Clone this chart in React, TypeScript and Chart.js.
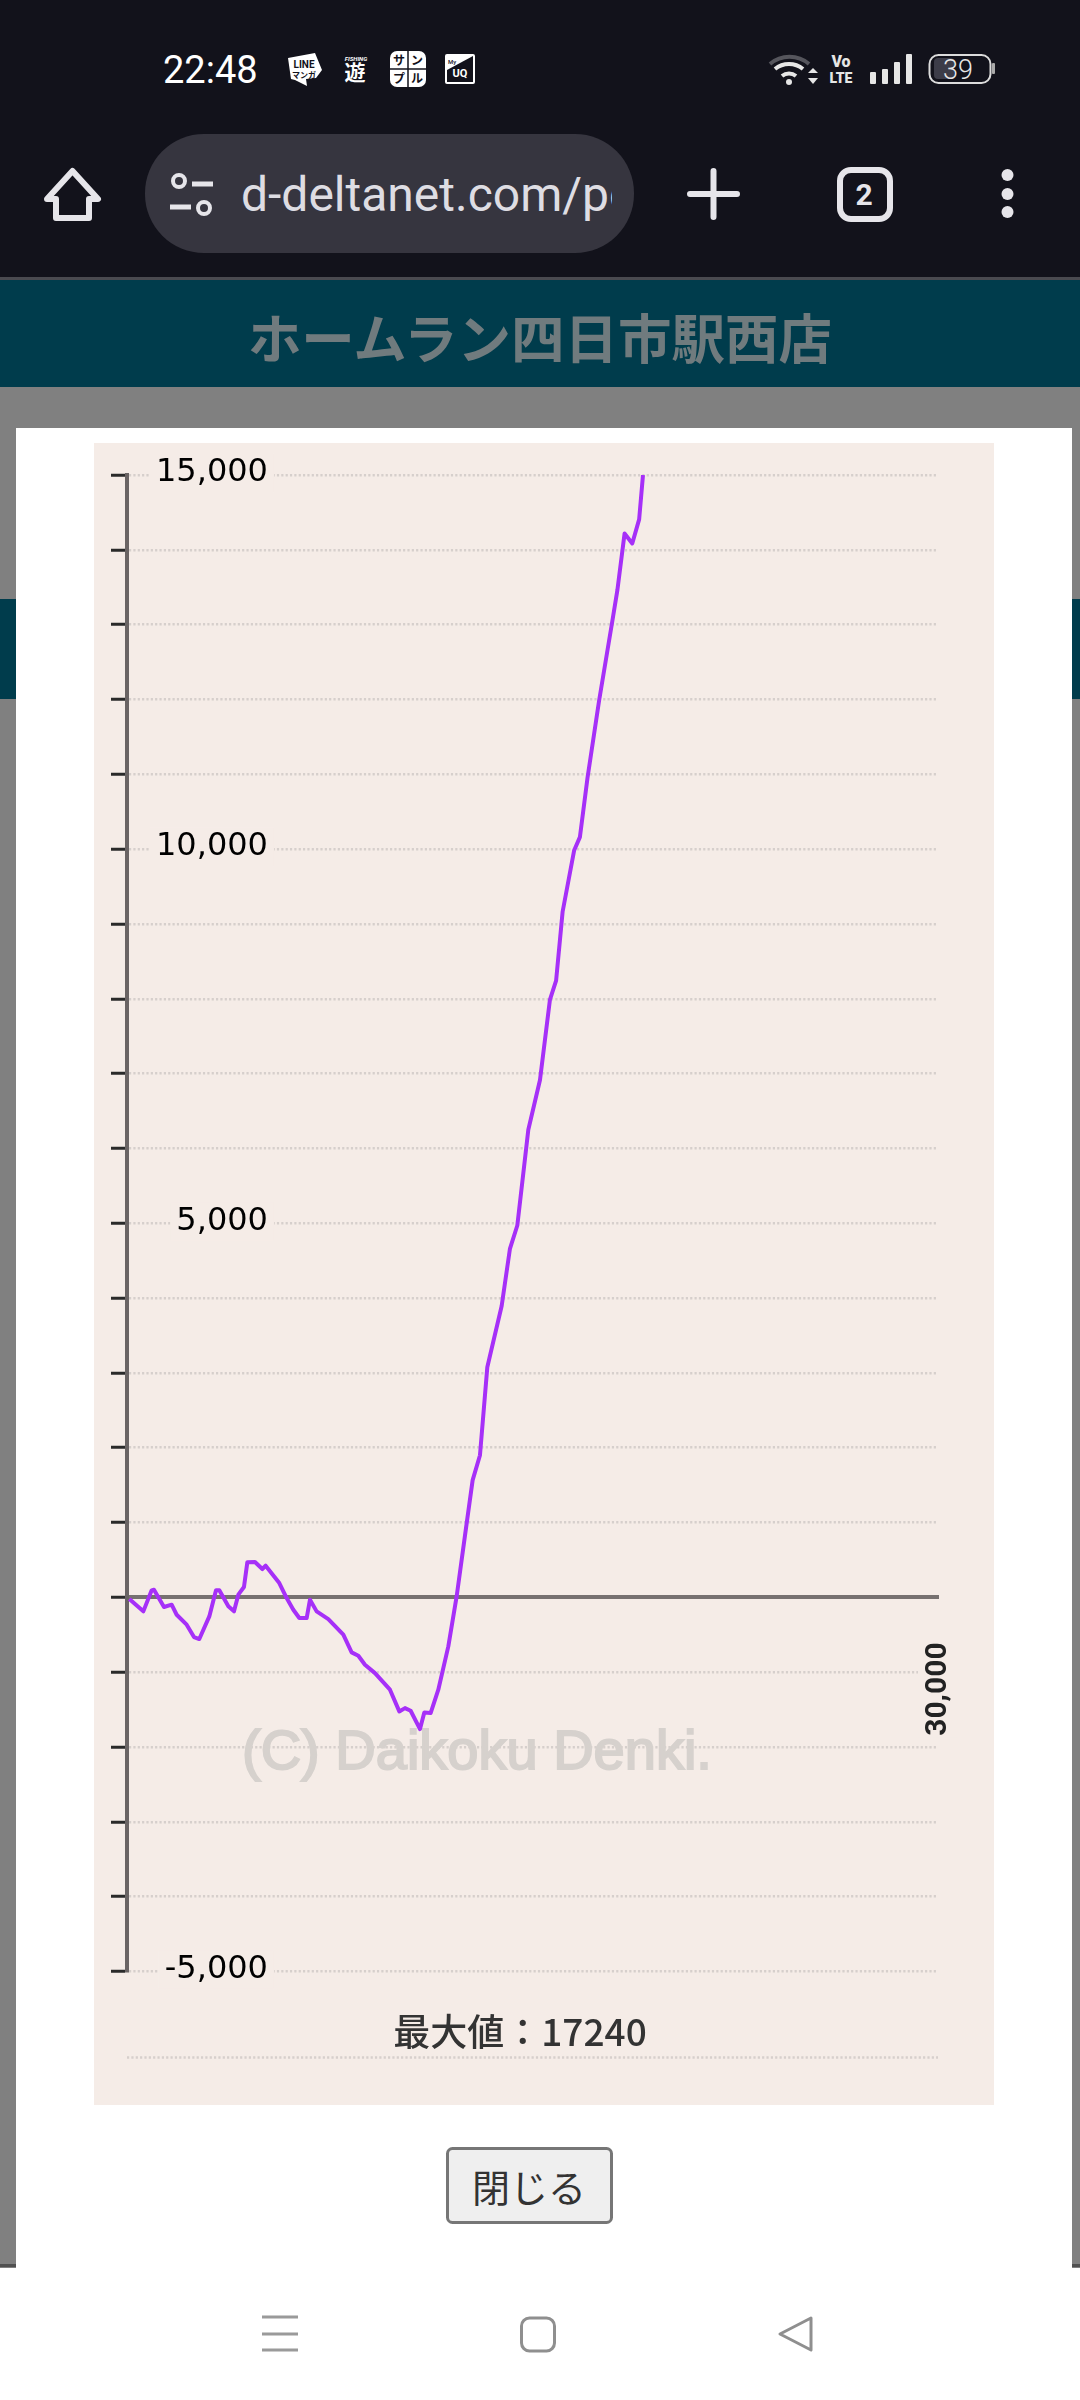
import React, { useEffect, useRef } from "react";
import { Chart, registerables } from "chart.js";

Chart.register(...registerables);

const xValues = [86, 604, 912, 998, 1368, 1652, 1837, 2207, 2478, 2675, 3045, 3292, 3415, 3748, 3958, 4118, 4327, 4451, 4734, 5006, 5129, 5634, 5906, 6152, 6374, 6646, 6769, 7015, 7447, 8002, 8310, 8557, 8803, 9173, 9728, 10073, 10283, 10492, 10838, 10998, 11232, 11516, 11886, 12194, 12502, 12786, 13057, 13328, 13427, 13859, 14167, 14438, 14845, 15277, 15646, 15873, 16114, 16539, 16753, 17034, 17460, 17955, 18140, 18406, 18690, 18945, 19087];
const yValues = [-22, -187, 94, 103, -129, -98, -232, -365, -530, -557, -254, 94, 94, -120, -187, 36, 138, 468, 473, 379, 424, 192, -9, -165, -276, -276, -31, -187, -290, -499, -735, -780, -900, -1012, -1234, -1524, -1480, -1515, -1760, -1538, -1546, -1234, -655, 13, 825, 1567, 1900, 3076, 3230, 3895, 4662, 4970, 6249, 6914, 7989, 8243, 9163, 9981, 10160, 10952, 11977, 13052, 13461, 14218, 14085, 14407, 15000];
const yMin = -5000;
const yMax = 15000;
const yStep = 1000;
const yLabelStep = 5000;
const xMax = 30000;
const xTicks = [30000];
const bottomRuleValue = -6150;
const maxLabel = "最大値：17240";
const watermark = "(C) Daikoku Denki.";
const panel = "#f5ece7";
const gridColor = "#d6cfcc";
const gridDash = [2.2, 2.15];

const isLabelled = (v: number) => v !== 0 && v % yLabelStep === 0;

const decorations = {
  id: "decorations",
  beforeDatasetsDraw(chart: any) {
    const { ctx, chartArea, scales } = chart;
    ctx.save();
    ctx.font = "56px 'Liberation Sans'";
    ctx.fillStyle = "#d6d1cd";
    ctx.strokeStyle = "#d6d1cd";
    ctx.lineWidth = 2;
    ctx.textAlign = "left";
    ctx.textBaseline = "middle";
    ctx.fillText(watermark, 148, 1311);
    ctx.strokeText(watermark, 148, 1311);
    ctx.restore();
    ctx.save();
    ctx.strokeStyle = gridColor;
    ctx.lineWidth = 2.5;
    ctx.setLineDash(gridDash);
    const y = scales.y.getPixelForValue(bottomRuleValue);
    ctx.beginPath();
    ctx.moveTo(chartArea.left, y);
    ctx.lineTo(chartArea.right, y);
    ctx.stroke();
    ctx.restore();
  },
  afterDraw(chart: any) {
    const { ctx, chartArea } = chart;
    ctx.save();
    ctx.font = "500 37px 'Noto Sans CJK JP'";
    ctx.fillStyle = "#333";
    ctx.textAlign = "center";
    ctx.textBaseline = "middle";
    ctx.fillText(maxLabel, chartArea.left + 393, 1589);
    ctx.restore();
  },
};

function ChartPanel() {
  const ref = useRef<HTMLCanvasElement>(null);
  useEffect(() => {
    const chart = new Chart(ref.current as HTMLCanvasElement, {
      type: "line",
      data: {
        datasets: [
          {
            data: xValues.map((x, i) => ({ x, y: yValues[i] })),
            borderColor: "#a630f8",
            borderWidth: 4,
            pointRadius: 0,
            tension: 0,
            borderJoinStyle: "round",
          },
        ],
      },
      plugins: [decorations],
      options: {
        animation: false,
        responsive: false,
        events: [],
        layout: { padding: { left: 17, right: 56, top: 32, bottom: 133.5 } },
        plugins: { legend: { display: false }, title: { display: false }, tooltip: { enabled: false } },
        scales: {
          x: {
            type: "linear",
            position: { y: 0 },
            min: 0,
            max: xMax,
            afterBuildTicks: (axis: any) => {
              axis.ticks = xTicks.map((value) => ({ value }));
            },
            afterFit: (axis: any) => {
              axis.paddingLeft = 0;
              axis.paddingRight = 0;
            },
            grid: { display: true, drawOnChartArea: false, drawTicks: false },
            border: { color: "#777170", width: 4 },
            ticks: {
              autoSkip: false,
              minRotation: 90,
              maxRotation: 90,
              padding: 45,
              labelOffset: -18,
              color: "#222",
              font: { family: "Roboto", size: 30, weight: 700 },
              showLabelBackdrop: true,
              backdropColor: panel,
              backdropPadding: 2,
              callback: (v: any) => Number(v).toLocaleString("en-US"),
            },
          },
          y: {
            type: "linear",
            min: yMin,
            max: yMax,
            afterFit: (axis: any) => {
              axis.width = 16;
              axis.paddingTop = 0;
              axis.paddingBottom = 0;
            },
            grid: {
              color: gridColor,
              lineWidth: 2.5,
              tickLength: 16,
              tickColor: "#2a2a2a",
              tickWidth: 3,
            },
            border: { color: "#6a6464", width: 4, dash: gridDash },
            ticks: {
              stepSize: yStep,
              autoSkip: false,
              mirror: true,
              crossAlign: "far",
              padding: 29,
              labelOffset: -2,
              color: "#000",
              font: { family: "'DejaVu Sans'", size: 32 },
              showLabelBackdrop: (c: any) => isLabelled(c.tick.value),
              backdropColor: panel,
              backdropPadding: { left: 6, right: 6, top: 0, bottom: 0 },
              callback: (v: any) => (isLabelled(Number(v)) ? Number(v).toLocaleString("en-US") : ""),
            },
          },
        },
      },
    } as any);
    return () => chart.destroy();
  }, []);
  return (
    <canvas
      ref={ref}
      width={900}
      height={1662}
      style={{ position: "absolute", left: 94, top: 443, width: 900, height: 1662, background: panel, display: "block" }}
    />
  );
}

const ui = "Roboto, sans-serif";
const cjk = "'Noto Sans CJK JP', sans-serif";
const bar = "#12121b";
const icon = "#e6e5ea";

function Chrome() {
  return (
    <svg width={1080} height={2400} style={{ position: "absolute", left: 0, top: 0 }}>
      <rect width={1080} height={2400} fill="#808080" />
      <rect width={1080} height={277} fill={bar} />
      <rect y={277} width={1080} height={3} fill="#4a4a50" />
      <rect y={280} width={1080} height={107} fill="#003c4c" />
      <rect y={599} width={1080} height={100} fill="#003c4c" />
      <rect y={2264} width={1080} height={3} fill="#505050" />
      <rect x={16} y={428} width={1056} height={1840} fill="#fff" />
      <rect y={2268} width={1080} height={132} fill="#fff" />
      <text x={540} y={335} dominantBaseline="central" textAnchor="middle" fontFamily={cjk} fontSize={53.5} fontWeight={700} fill="#707b7e">ホームラン四日市駅西店</text>

      {/* status bar */}
      <text x={163} y={83} fontFamily={ui} fontSize={38} fill="#fff">22:48</text>
      <polygon points="288,58 315,53 322,70 316,78 306,79 307,86 295,80 291,79" fill="#fff" />
      <text x={304} y={68} textAnchor="middle" fontFamily={ui} fontWeight={700} fontSize={10} fill={bar}>LINE</text>
      <text x={304} y={78} textAnchor="middle" fontFamily={cjk} fontWeight={700} fontSize={8} fill={bar}>マンガ</text>
      <text x={356} y={61} textAnchor="middle" fontFamily={ui} fontStyle="italic" fontWeight={700} fontSize={6} fill="#fff">FISHING</text>
      <text x={355} y={80} textAnchor="middle" fontFamily={cjk} fontWeight={700} fontSize={21} fill="#fff">遊</text>
      <rect x={390} y={51} width={36} height={36} rx={7} fill="#fff" />
      <path d="M408 51V87M390 69H426" stroke={bar} strokeWidth={1.5} />
      <g fontFamily={cjk} fontWeight={700} fontSize={12} fill={bar} textAnchor="middle">
        <text x={399} y={65}>サ</text>
        <text x={417} y={65}>ン</text>
        <text x={399} y={83}>プ</text>
        <text x={417} y={83}>ル</text>
      </g>
      <rect x={445} y={54} width={30} height={30} rx={2} fill="#fff" />
      <polygon points="447,70 473,56 473,82 447,82" fill={bar} />
      <text x={448} y={64} fontFamily={ui} fontWeight={500} fontSize={6} fill={bar}>My</text>
      <text x={460} y={77} textAnchor="middle" fontFamily={ui} fontWeight={700} fontSize={11} fill="#fff">UQ</text>

      <path d="M770 64A30 30 0 0 1 809 64" stroke="#55555c" strokeWidth={4} fill="none" />
      <path d="M775 69A22 22 0 0 1 803 69" stroke="#e6e6e6" strokeWidth={4} fill="none" />
      <path d="M782 76A11 11 0 0 1 796 76" stroke="#e6e6e6" strokeWidth={4} fill="none" />
      <circle cx={789} cy={82} r={3} fill="#e6e6e6" />
      <polygon points="808,73 813,68 818,73" fill="#e6e6e6" />
      <polygon points="808,78 818,78 813,84" fill="#e6e6e6" />
      <text x={841} y={67} textAnchor="middle" fontFamily={ui} fontWeight={900} fontSize={16} fill="#e6e6e6">Vo</text>
      <text x={841} y={83} textAnchor="middle" fontFamily={ui} fontWeight={900} fontSize={14} fill="#e6e6e6">LTE</text>
      <rect x={870} y={72} width={6} height={12} rx={1} fill="#e6e6e6" />
      <rect x={882} y={69} width={6} height={15} rx={1} fill="#e6e6e6" />
      <rect x={894} y={62} width={6} height={22} rx={1} fill="#e6e6e6" />
      <rect x={906} y={54} width={6} height={30} rx={1} fill="#e6e6e6" />
      <rect x={934} y={58} width={20} height={21} rx={4} fill="#3c3c48" />
      <rect x={929.5} y={55} width={61} height={28} rx={9} fill="none" stroke="#dcdcdc" strokeWidth={2} />
      <rect x={992} y={63} width={3} height={11} rx={1} fill="#aaa" />
      <text x={958} y={79} textAnchor="middle" fontFamily={ui} fontWeight={300} fontSize={27} fill="#e6e6e6">39</text>

      {/* browser toolbar */}
      <path d="M72.5 171L98 199H89V218H56V199H47Z" fill="none" stroke={icon} strokeWidth={6} strokeLinejoin="round" />
      <rect x={145} y={134} width={489} height={119} rx={59} fill="#36353f" />
      <circle cx={179} cy={181} r={6} fill="none" stroke={icon} strokeWidth={4} />
      <path d="M192 184H213M170 207H191" stroke={icon} strokeWidth={5} />
      <circle cx={204} cy={208} r={6} fill="none" stroke={icon} strokeWidth={4} />
      <svg x={241} y={150} width={371} height={90}>
        <text x={0} y={61} fontFamily={ui} fontSize={48} fill="#dedde3">d-deltanet.com/pc</text>
      </svg>
      <path d="M713.5 171V217M690 194H737" stroke={icon} strokeWidth={6} strokeLinecap="round" />
      <rect x={840} y={170} width={50} height={49} rx={11} fill="none" stroke={icon} strokeWidth={6} />
      <text x={864} y={205} textAnchor="middle" fontFamily={ui} fontWeight={700} fontSize={30} fill={icon}>2</text>
      <circle cx={1007.5} cy={175} r={6} fill={icon} />
      <circle cx={1007.5} cy={194} r={6} fill={icon} />
      <circle cx={1007.5} cy={212} r={6} fill={icon} />

      {/* close button */}
      <rect x={447.5} y={2148.5} width={164} height={74} rx={5} fill="#efefef" stroke="#767676" strokeWidth={3} />
      <text x={529} y={2185} dominantBaseline="central" textAnchor="middle" fontFamily={cjk} fontSize={38} fill="#333">閉じる</text>

      {/* navigation bar */}
      <path d="M262 2317H298M262 2334H298M262 2350H298" stroke="#9a9a9a" strokeWidth={3} />
      <rect x={521.5} y={2318} width={33} height={33} rx={8} fill="none" stroke="#8f8f8f" strokeWidth={3} />
      <path d="M811 2318L780 2334L811 2350Z" fill="none" stroke="#8f8f8f" strokeWidth={3} strokeLinejoin="round" />
    </svg>
  );
}

export default function App() {
  return (
    <div style={{ position: "absolute", left: 0, top: 0, width: 1080, height: 2400, overflow: "hidden" }}>
      <Chrome />
      <ChartPanel />
    </div>
  );
}
